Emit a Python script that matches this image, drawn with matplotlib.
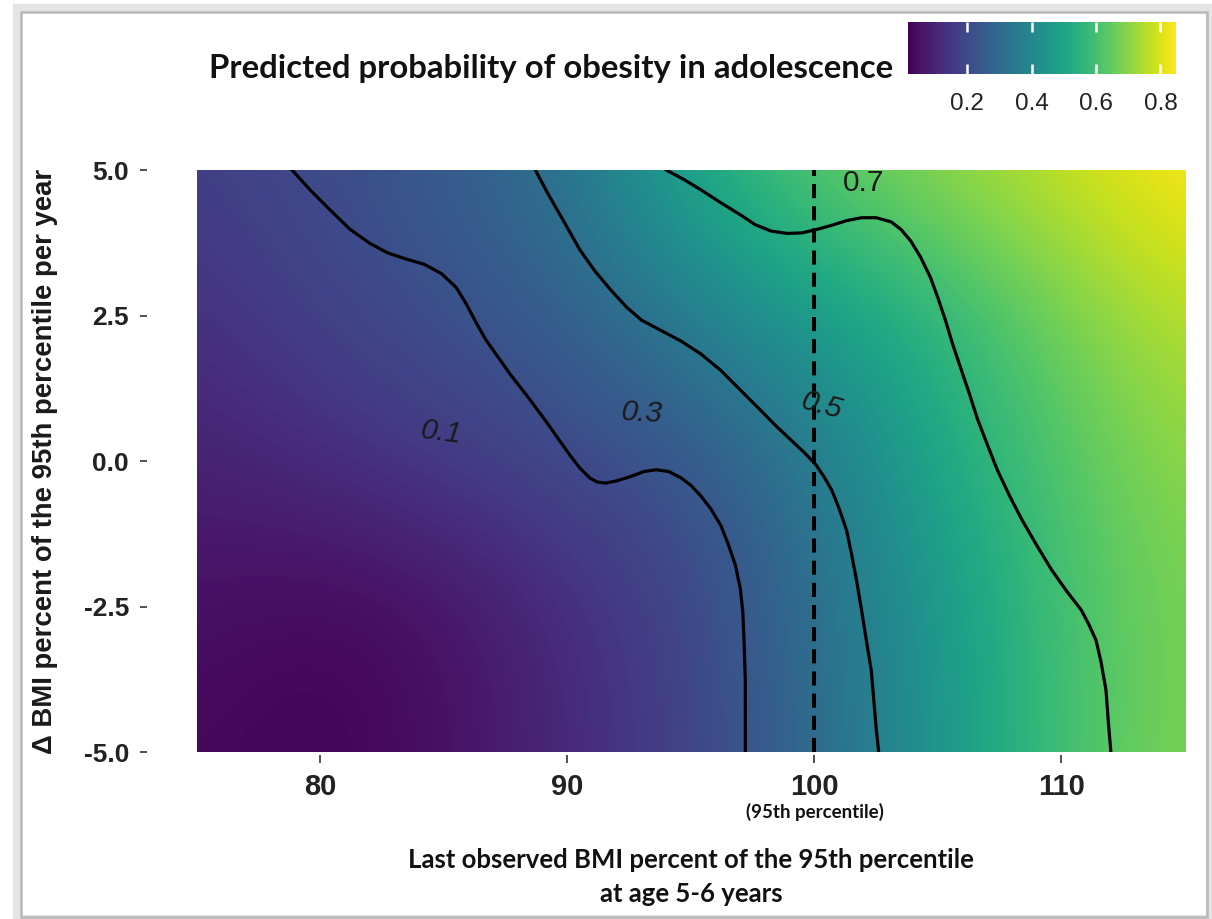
import numpy as np
import matplotlib
matplotlib.use('Agg')
from matplotlib import pyplot as plt
from matplotlib.patches import Rectangle

# grid of the predicted probability surface
x_nodes = [75, 80, 85, 90, 95, 100, 105, 110, 115]
y_nodes = [-5.0, -2.5, 0.0, 2.5, 5.0]
prob = [
    [0.035, 0.02, 0.05, 0.11, 0.18, 0.30, 0.45, 0.60, 0.69],  # y=-5
    [0.05, 0.03, 0.05, 0.12, 0.19, 0.31, 0.46, 0.60, 0.68],   # y=-2.5
    [0.09, 0.12, 0.16, 0.20, 0.23, 0.35, 0.51, 0.62, 0.71],   # y=0
    [0.13, 0.18, 0.22, 0.26, 0.37, 0.47, 0.55, 0.67, 0.76],   # y=2.5
    [0.17, 0.21, 0.25, 0.34, 0.52, 0.64, 0.71, 0.78, 0.85],   # y=5
]

# contour lines
line_a_x = [78.85, 79.6, 80.4, 81.2, 82.0, 82.7, 83.4, 84.2, 84.9, 85.5, 85.9, 86.3,
            86.7, 87.2, 87.7, 88.4, 89.1, 89.6, 90.1, 90.5, 90.9, 91.2, 91.55, 92.0,
            92.6, 93.1, 93.6, 94.1, 94.6, 95.0, 95.4, 95.8, 96.2, 96.5, 96.8, 97.0,
            97.1, 97.15, 97.2, 97.2]
line_a_y = [5.0, 4.65, 4.31, 3.98, 3.74, 3.58, 3.48, 3.38, 3.22, 2.98, 2.7, 2.38,
            2.08, 1.78, 1.48, 1.1, 0.70, 0.40, 0.10, -0.12, -0.29, -0.36, -0.38, -0.34,
            -0.26, -0.18, -0.15, -0.18, -0.29, -0.42, -0.60, -0.82, -1.1, -1.42, -1.79, -2.2,
            -2.6, -3.1, -3.76, -5.0]
line_b_x = [88.7, 89.2, 89.7, 90.1, 90.5, 91.1, 91.75, 92.4, 93.0, 93.8, 94.6, 95.4,
            96.2, 97.0, 97.8, 98.4, 99.05, 99.6, 100.07, 100.4, 100.7, 101.0, 101.3,
            101.5, 101.7, 101.9, 102.1, 102.3, 102.4, 102.5, 102.6]
line_b_y = [5.0, 4.6, 4.23, 3.93, 3.63, 3.27, 2.94, 2.64, 2.42, 2.24, 2.06, 1.84,
            1.56, 1.22, 0.88, 0.62, 0.36, 0.14, -0.07, -0.28, -0.5, -0.82, -1.19,
            -1.6, -2.04, -2.55, -3.08, -3.6, -4.1, -4.6, -5.0]
line_c_x = [94.0, 94.7, 95.4, 96.2, 97.0, 97.6, 98.25, 98.9, 99.5, 100.1, 100.7, 101.3,
            101.9, 102.5, 103.1, 103.5, 103.9, 104.3, 104.7, 105.0, 105.3, 105.6, 105.95,
            106.3, 106.6, 107.0, 107.4, 107.9, 108.4, 109.0, 109.6, 110.2, 110.8, 111.1,
            111.4, 111.6, 111.8, 111.9, 112.0]
line_c_y = [5.0, 4.84, 4.66, 4.44, 4.23, 4.06, 3.95, 3.91, 3.92, 3.98, 4.05, 4.13,
            4.18, 4.18, 4.11, 3.98, 3.78, 3.5, 3.15, 2.8, 2.42, 2.0, 1.56,
            1.12, 0.72, 0.28, -0.15, -0.6, -1.01, -1.45, -1.87, -2.23, -2.56, -2.8,
            -3.08, -3.45, -3.93, -4.5, -5.0]

contour_labels = ['0.1', '0.3', '0.5', '0.7']
label_x = [84.9, 93.0, 100.3, 102.0]
label_y = [0.48, 0.82, 0.96, 4.78]
label_rot = [-7, -3, -15, 0]

cbar_ticks = [0.2, 0.4, 0.6, 0.8]
vmin, vmax = 0.016, 0.847

fig = plt.figure(figsize=(12.12, 9.19), dpi=100)
ax = fig.add_axes([0.1625, 0.1817, 0.8152, 0.6333])

dx = (x_nodes[1] - x_nodes[0]) / 2
dy = (y_nodes[1] - y_nodes[0]) / 2
im = ax.imshow(np.array(prob), origin='lower', cmap='viridis', vmin=vmin, vmax=vmax,
               interpolation='bicubic', aspect='auto',
               extent=[x_nodes[0] - dx, x_nodes[-1] + dx, y_nodes[0] - dy, y_nodes[-1] + dy])
ax.set_xlim(75, 115)
ax.set_ylim(-5, 5)

for lx, ly in [(line_a_x, line_a_y), (line_b_x, line_b_y), (line_c_x, line_c_y)]:
    ax.plot(lx, ly, color='black', lw=2.3, solid_joinstyle='round')

for t, tx, ty, r in zip(contour_labels, label_x, label_y, label_rot):
    ax.text(tx, ty, t, ha='center', va='center', rotation=r, fontsize=21.5,
            family='Liberation Sans', style='italic' if t != '0.7' else 'normal',
            color='#1a1a1a')

ax.axvline(100, color='black', lw=2.9, ls=(0, (3.5, 2)))

for s in ax.spines.values():
    s.set_visible(False)
ax.spines['left'].set_position(('outward', 36))
ax.spines['bottom'].set_position(('outward', 2))
ax.set_xticks([80, 90, 100, 110])
ax.set_yticks([-5, -2.5, 0, 2.5, 5])
ax.set_yticklabels(['-5.0', '-2.5', '0.0', '2.5', '5.0'])
ax.tick_params(axis='y', length=5, width=1.2, color='#333333', pad=8, labelsize=19,
               labelcolor='#222222')
ax.tick_params(axis='x', length=6, width=1.2, color='#333333', pad=7, labelsize=21,
               labelcolor='#222222')
for lab in ax.get_xticklabels() + ax.get_yticklabels():
    lab.set_family('Liberation Sans')
    lab.set_fontweight('bold')

ax.annotate('(95th percentile)', xy=(100, 0), xycoords=('data', 'axes fraction'),
            xytext=(0, -60), textcoords='offset pixels', ha='center', va='center',
            fontsize=13.5, fontweight='bold', family='Lato', color='#111111')

ax.set_xlabel('Last observed BMI percent of the 95th percentile\nat age 5-6 years',
              family='Lato', fontweight='bold', fontsize=18.5, labelpad=34, linespacing=1.5,
              color='#111111')
ax.set_ylabel('\u0394 BMI percent of the 95th percentile per year',
              family='Liberation Sans', fontweight='bold', fontsize=19.8,
              color='#1a1a1a')
ax.yaxis.set_label_coords(-0.1407, 0.5)

fig.text(0.737, 0.926, 'Predicted probability of obesity in adolescence', ha='right',
         va='center', family='Lato', fontweight='bold', fontsize=23.7, color='#111111')

cax = fig.add_axes([0.749, 0.9195, 0.221, 0.0566])
cb = fig.colorbar(im, cax=cax, orientation='horizontal', ticks=cbar_ticks)
cb.outline.set_visible(False)
cax.tick_params(axis='x', direction='in', top=True, bottom=True, length=7, width=1.8,
                color='white', labelsize=17.5, labelcolor='#222222', pad=14)
for lab in cax.get_xticklabels():
    lab.set_family('Liberation Sans')

# frame with a soft shadow around the figure
W, H = 1212, 919
fig.patches.append(Rectangle((17 / W, 0), 1193 / W, 1 - 8 / H, transform=fig.transFigure,
                             fill=False, edgecolor='#e4e4e4', lw=6, zorder=0))
fig.patches.append(Rectangle((21 / W, 2 / H), 1186 / W, 1 - 14 / H, transform=fig.transFigure,
                             fill=False, edgecolor='#b8b8b8', lw=1.8, zorder=1))

fig.savefig('out.png', dpi=100)
